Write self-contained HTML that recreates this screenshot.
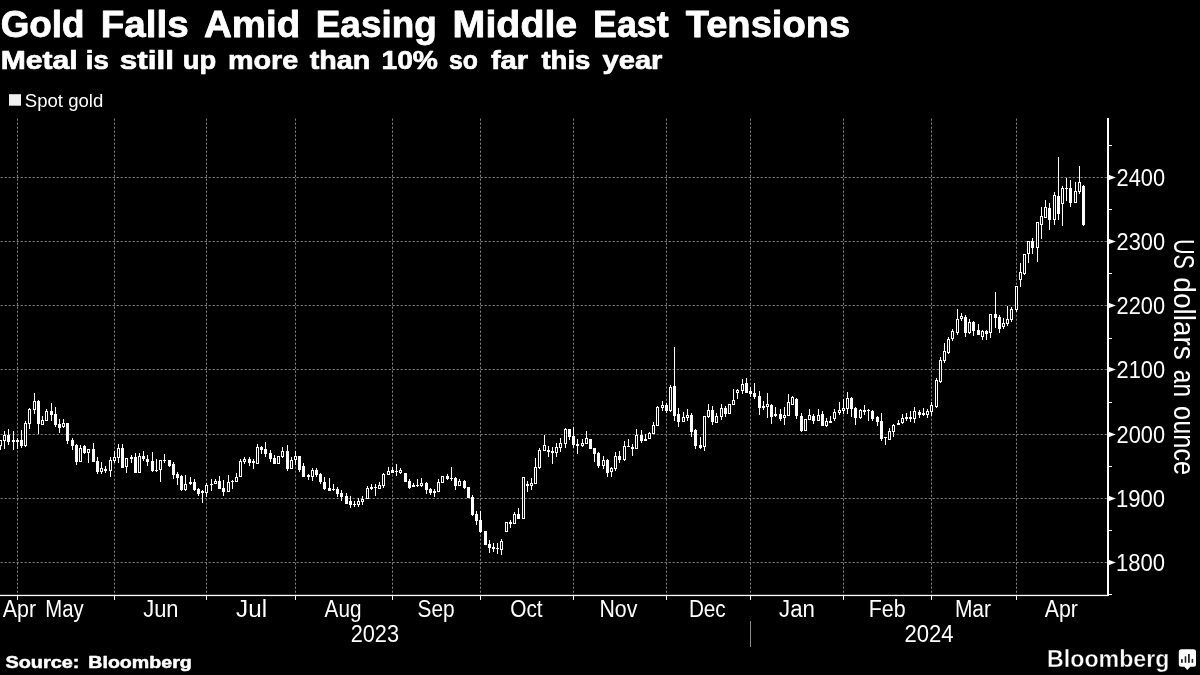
<!DOCTYPE html>
<html><head><meta charset="utf-8"><title>Gold Falls Amid Easing Middle East Tensions</title>
<style>html,body{margin:0;padding:0;background:#000;}body{width:1200px;height:675px;overflow:hidden;}svg{display:block;will-change:transform;}text{font-family:"Liberation Sans",sans-serif;fill:#fff;}</style>
</head><body>
<svg width="1200" height="675" viewBox="0 0 1200 675">
<rect width="1200" height="675" fill="#000"/>
<text x="0.70" y="37.30" font-size="37" font-weight="bold" textLength="83.86" lengthAdjust="spacingAndGlyphs" stroke="#fff" stroke-width="0.8" stroke-linejoin="round">Gold</text>
<text x="100.78" y="37.30" font-size="37" font-weight="bold" textLength="87.93" lengthAdjust="spacingAndGlyphs" stroke="#fff" stroke-width="0.8" stroke-linejoin="round">Falls</text>
<text x="203.97" y="37.30" font-size="37" font-weight="bold" textLength="96.28" lengthAdjust="spacingAndGlyphs" stroke="#fff" stroke-width="0.8" stroke-linejoin="round">Amid</text>
<text x="315.79" y="37.30" font-size="37" font-weight="bold" textLength="120.90" lengthAdjust="spacingAndGlyphs" stroke="#fff" stroke-width="0.8" stroke-linejoin="round">Easing</text>
<text x="452.63" y="37.30" font-size="37" font-weight="bold" textLength="124.63" lengthAdjust="spacingAndGlyphs" stroke="#fff" stroke-width="0.8" stroke-linejoin="round">Middle</text>
<text x="593.00" y="37.30" font-size="37" font-weight="bold" textLength="75.65" lengthAdjust="spacingAndGlyphs" stroke="#fff" stroke-width="0.8" stroke-linejoin="round">East</text>
<text x="685.71" y="37.30" font-size="37" font-weight="bold" textLength="164.53" lengthAdjust="spacingAndGlyphs" stroke="#fff" stroke-width="0.8" stroke-linejoin="round">Tensions</text>
<text x="0.65" y="68.80" font-size="26.7" font-weight="bold" textLength="76.88" lengthAdjust="spacingAndGlyphs" stroke="#fff" stroke-width="0.7" stroke-linejoin="round">Metal</text>
<text x="85.74" y="68.80" font-size="26.7" font-weight="bold" textLength="23.09" lengthAdjust="spacingAndGlyphs" stroke="#fff" stroke-width="0.7" stroke-linejoin="round">is</text>
<text x="119.79" y="68.80" font-size="26.7" font-weight="bold" textLength="54.14" lengthAdjust="spacingAndGlyphs" stroke="#fff" stroke-width="0.7" stroke-linejoin="round">still</text>
<text x="182.75" y="68.80" font-size="26.7" font-weight="bold" textLength="33.35" lengthAdjust="spacingAndGlyphs" stroke="#fff" stroke-width="0.7" stroke-linejoin="round">up</text>
<text x="227.97" y="68.80" font-size="26.7" font-weight="bold" textLength="70.32" lengthAdjust="spacingAndGlyphs" stroke="#fff" stroke-width="0.7" stroke-linejoin="round">more</text>
<text x="309.82" y="68.80" font-size="26.7" font-weight="bold" textLength="60.47" lengthAdjust="spacingAndGlyphs" stroke="#fff" stroke-width="0.7" stroke-linejoin="round">than</text>
<text x="381.46" y="68.80" font-size="26.7" font-weight="bold" textLength="56.48" lengthAdjust="spacingAndGlyphs" stroke="#fff" stroke-width="0.7" stroke-linejoin="round">10%</text>
<text x="449.10" y="68.80" font-size="26.7" font-weight="bold" textLength="28.86" lengthAdjust="spacingAndGlyphs" stroke="#fff" stroke-width="0.7" stroke-linejoin="round">so</text>
<text x="490.91" y="68.80" font-size="26.7" font-weight="bold" textLength="37.29" lengthAdjust="spacingAndGlyphs" stroke="#fff" stroke-width="0.7" stroke-linejoin="round">far</text>
<text x="541.42" y="68.80" font-size="26.7" font-weight="bold" textLength="49.00" lengthAdjust="spacingAndGlyphs" stroke="#fff" stroke-width="0.7" stroke-linejoin="round">this</text>
<text x="602.64" y="68.80" font-size="26.7" font-weight="bold" textLength="59.80" lengthAdjust="spacingAndGlyphs" stroke="#fff" stroke-width="0.7" stroke-linejoin="round">year</text>
<text x="24.80" y="106.60" font-size="18" font-weight="normal" textLength="78.43" lengthAdjust="spacingAndGlyphs">Spot gold</text>
<text x="1116.57" y="185.60" font-size="24" font-weight="normal" textLength="48.48" lengthAdjust="spacingAndGlyphs">2400</text>
<text x="1116.57" y="249.60" font-size="24" font-weight="normal" textLength="48.48" lengthAdjust="spacingAndGlyphs">2300</text>
<text x="1116.57" y="313.60" font-size="24" font-weight="normal" textLength="48.48" lengthAdjust="spacingAndGlyphs">2200</text>
<text x="1116.57" y="377.60" font-size="24" font-weight="normal" textLength="48.48" lengthAdjust="spacingAndGlyphs">2100</text>
<text x="1116.57" y="442.60" font-size="24" font-weight="normal" textLength="48.48" lengthAdjust="spacingAndGlyphs">2000</text>
<text x="1115.96" y="506.60" font-size="24" font-weight="normal" textLength="49.04" lengthAdjust="spacingAndGlyphs">1900</text>
<text x="1115.96" y="570.60" font-size="24" font-weight="normal" textLength="49.04" lengthAdjust="spacingAndGlyphs">1800</text>
<text x="2.72" y="617.00" font-size="23.5" font-weight="normal" textLength="33.36" lengthAdjust="spacingAndGlyphs">Apr</text>
<text x="45.37" y="617.00" font-size="23.5" font-weight="normal" textLength="38.32" lengthAdjust="spacingAndGlyphs">May</text>
<text x="143.22" y="617.00" font-size="23.5" font-weight="normal" textLength="35.30" lengthAdjust="spacingAndGlyphs">Jun</text>
<text x="236.11" y="617.00" font-size="23.5" font-weight="normal" textLength="30.98" lengthAdjust="spacingAndGlyphs">Jul</text>
<text x="324.62" y="617.00" font-size="23.5" font-weight="normal" textLength="36.87" lengthAdjust="spacingAndGlyphs">Aug</text>
<text x="417.54" y="617.00" font-size="23.5" font-weight="normal" textLength="37.15" lengthAdjust="spacingAndGlyphs">Sep</text>
<text x="510.23" y="617.00" font-size="23.5" font-weight="normal" textLength="32.38" lengthAdjust="spacingAndGlyphs">Oct</text>
<text x="599.51" y="617.00" font-size="23.5" font-weight="normal" textLength="37.82" lengthAdjust="spacingAndGlyphs">Nov</text>
<text x="688.90" y="617.00" font-size="23.5" font-weight="normal" textLength="36.83" lengthAdjust="spacingAndGlyphs">Dec</text>
<text x="779.06" y="617.00" font-size="23.5" font-weight="normal" textLength="35.87" lengthAdjust="spacingAndGlyphs">Jan</text>
<text x="868.80" y="617.00" font-size="23.5" font-weight="normal" textLength="36.88" lengthAdjust="spacingAndGlyphs">Feb</text>
<text x="954.88" y="617.00" font-size="23.5" font-weight="normal" textLength="36.19" lengthAdjust="spacingAndGlyphs">Mar</text>
<text x="1044.68" y="617.00" font-size="23.5" font-weight="normal" textLength="33.18" lengthAdjust="spacingAndGlyphs">Apr</text>
<text x="350.65" y="642.00" font-size="23" font-weight="normal" textLength="48.38" lengthAdjust="spacingAndGlyphs">2023</text>
<text x="904.55" y="642.00" font-size="23" font-weight="normal" textLength="49.07" lengthAdjust="spacingAndGlyphs">2024</text>
<text x="5.40" y="667.50" font-size="17" font-weight="bold" textLength="74.03" lengthAdjust="spacingAndGlyphs" stroke="#fff" stroke-width="0.5" stroke-linejoin="round">Source:</text>
<text x="88.31" y="667.50" font-size="17" font-weight="bold" textLength="103.45" lengthAdjust="spacingAndGlyphs" stroke="#fff" stroke-width="0.5" stroke-linejoin="round">Bloomberg</text>
<text x="1047.14" y="666.70" font-size="23" font-weight="bold" textLength="122.25" lengthAdjust="spacingAndGlyphs" stroke="#000" stroke-width="0.35">Bloomberg</text>
<text transform="translate(1174.30,239.08) rotate(90)" font-size="29" textLength="29.90" lengthAdjust="spacingAndGlyphs">US</text>
<text transform="translate(1174.30,277.37) rotate(90)" font-size="29" textLength="82.43" lengthAdjust="spacingAndGlyphs">dollars</text>
<text transform="translate(1174.30,369.87) rotate(90)" font-size="29" textLength="27.08" lengthAdjust="spacingAndGlyphs">an</text>
<text transform="translate(1174.30,406.12) rotate(90)" font-size="29" textLength="69.09" lengthAdjust="spacingAndGlyphs">ounce</text>
<rect x="9" y="94.2" width="12" height="11.5" fill="#f0f0f0"/>
<g stroke="#7e7e7e" stroke-width="1" stroke-dasharray="2.2 1.8" fill="none">
<line x1="17.5" y1="118.6" x2="17.5" y2="595"/>
<line x1="114.5" y1="118.6" x2="114.5" y2="595"/>
<line x1="206.5" y1="118.6" x2="206.5" y2="595"/>
<line x1="295.5" y1="118.6" x2="295.5" y2="595"/>
<line x1="392.5" y1="118.6" x2="392.5" y2="595"/>
<line x1="480.5" y1="118.6" x2="480.5" y2="595"/>
<line x1="573.5" y1="118.6" x2="573.5" y2="595"/>
<line x1="666.5" y1="118.6" x2="666.5" y2="595"/>
<line x1="750.5" y1="118.6" x2="750.5" y2="595"/>
<line x1="843.5" y1="118.6" x2="843.5" y2="595"/>
<line x1="931.5" y1="118.6" x2="931.5" y2="595"/>
<line x1="1016.5" y1="118.6" x2="1016.5" y2="595"/>
<line x1="0.6" y1="177.5" x2="1107.0" y2="177.5"/>
<line x1="0.6" y1="241.5" x2="1107.0" y2="241.5"/>
<line x1="0.6" y1="305.5" x2="1107.0" y2="305.5"/>
<line x1="0.6" y1="369.5" x2="1107.0" y2="369.5"/>
<line x1="0.6" y1="434.5" x2="1107.0" y2="434.5"/>
<line x1="0.6" y1="498.5" x2="1107.0" y2="498.5"/>
<line x1="0.6" y1="562.5" x2="1107.0" y2="562.5"/>
</g>
<g fill="#fff" shape-rendering="crispEdges">
<rect x="1107.0" y="118" width="2" height="477.5"/>
<rect x="0" y="594.8" width="1108.2" height="1.3" shape-rendering="auto"/>
<rect x="17" y="595" width="1" height="5"/>
<rect x="114" y="595" width="1" height="5"/>
<rect x="206" y="595" width="1" height="5"/>
<rect x="295" y="595" width="1" height="5"/>
<rect x="392" y="595" width="1" height="5"/>
<rect x="480" y="595" width="1" height="5"/>
<rect x="573" y="595" width="1" height="5"/>
<rect x="666" y="595" width="1" height="5"/>
<rect x="750" y="595" width="1" height="5"/>
<rect x="843" y="595" width="1" height="5"/>
<rect x="931" y="595" width="1" height="5"/>
<rect x="1016" y="595" width="1" height="5"/>
<rect x="1109.0" y="594" width="3" height="1"/>
<rect x="1109.0" y="530" width="3" height="1"/>
<rect x="1109.0" y="466" width="3" height="1"/>
<rect x="1109.0" y="402" width="3" height="1"/>
<rect x="1109.0" y="338" width="3" height="1"/>
<rect x="1109.0" y="273" width="3" height="1"/>
<rect x="1109.0" y="209" width="3" height="1"/>
<rect x="1109.0" y="145" width="3" height="1"/>
</g>
<path d="M1108.5 174.8 L1115.8 177.5 L1108.5 180.2 Z" fill="#fff"/>
<path d="M1108.5 238.8 L1115.8 241.5 L1108.5 244.2 Z" fill="#fff"/>
<path d="M1108.5 302.8 L1115.8 305.5 L1108.5 308.2 Z" fill="#fff"/>
<path d="M1108.5 366.8 L1115.8 369.5 L1108.5 372.2 Z" fill="#fff"/>
<path d="M1108.5 431.8 L1115.8 434.5 L1108.5 437.2 Z" fill="#fff"/>
<path d="M1108.5 495.8 L1115.8 498.5 L1108.5 501.2 Z" fill="#fff"/>
<path d="M1108.5 559.8 L1115.8 562.5 L1108.5 565.2 Z" fill="#fff"/>
<rect x="750" y="621" width="1" height="26" fill="#888" shape-rendering="crispEdges"/>
<path d="M1181.3 649.2 h12.2 a2.5 2.5 0 0 1 2.5 2.5 v12.5 a2.5 2.5 0 0 1 -2.5 2.5 h-3.2 l-3 3.4 l-3 -3.4 h-3 a2.5 2.5 0 0 1 -2.5 -2.5 v-12.5 a2.5 2.5 0 0 1 2.5 -2.5 z" fill="#fff"/>
<g fill="#222"><rect x="1181" y="659.2" width="1.8" height="3.6"/><rect x="1184.7" y="656.3" width="1.6" height="6.5"/><rect x="1188" y="654" width="1.8" height="8.8"/><rect x="1191.6" y="658.9" width="1.6" height="3.9"/></g>
<g shape-rendering="crispEdges">
<rect x="0" y="440" width="1" height="10" fill="#fff"/>
<rect x="-1" y="440" width="3" height="6" fill="#fff"/>
<rect x="0" y="441" width="1" height="4" fill="#000"/>
<rect x="4" y="431" width="1" height="18" fill="#fff"/>
<rect x="3" y="435" width="3" height="6" fill="#fff"/>
<rect x="4" y="436" width="1" height="4" fill="#000"/>
<rect x="8" y="429" width="1" height="16" fill="#fff"/>
<rect x="7" y="435" width="3" height="7" fill="#fff"/>
<rect x="13" y="431" width="1" height="19" fill="#fff"/>
<rect x="12" y="440" width="3" height="2" fill="#fff"/>
<rect x="17" y="438" width="1" height="11" fill="#fff"/>
<rect x="16" y="440" width="3" height="2" fill="#fff"/>
<rect x="21" y="430" width="1" height="18" fill="#fff"/>
<rect x="20" y="440" width="3" height="6" fill="#fff"/>
<rect x="25" y="421" width="1" height="26" fill="#fff"/>
<rect x="24" y="423" width="3" height="23" fill="#fff"/>
<rect x="25" y="424" width="1" height="21" fill="#000"/>
<rect x="29" y="408" width="1" height="21" fill="#fff"/>
<rect x="28" y="409" width="3" height="15" fill="#fff"/>
<rect x="29" y="410" width="1" height="13" fill="#000"/>
<rect x="34" y="393" width="1" height="21" fill="#fff"/>
<rect x="33" y="401" width="3" height="9" fill="#fff"/>
<rect x="34" y="402" width="1" height="7" fill="#000"/>
<rect x="38" y="400" width="1" height="34" fill="#fff"/>
<rect x="37" y="401" width="3" height="23" fill="#fff"/>
<rect x="42" y="416" width="1" height="9" fill="#fff"/>
<rect x="41" y="420" width="3" height="5" fill="#fff"/>
<rect x="42" y="421" width="1" height="3" fill="#000"/>
<rect x="46" y="409" width="1" height="12" fill="#fff"/>
<rect x="45" y="411" width="3" height="10" fill="#fff"/>
<rect x="46" y="412" width="1" height="8" fill="#000"/>
<rect x="51" y="403" width="1" height="18" fill="#fff"/>
<rect x="50" y="411" width="3" height="4" fill="#fff"/>
<rect x="55" y="407" width="1" height="20" fill="#fff"/>
<rect x="54" y="414" width="3" height="11" fill="#fff"/>
<rect x="59" y="419" width="1" height="14" fill="#fff"/>
<rect x="58" y="424" width="3" height="4" fill="#fff"/>
<rect x="63" y="419" width="1" height="9" fill="#fff"/>
<rect x="62" y="423" width="3" height="4" fill="#fff"/>
<rect x="63" y="424" width="1" height="2" fill="#000"/>
<rect x="67" y="423" width="1" height="21" fill="#fff"/>
<rect x="66" y="423" width="3" height="18" fill="#fff"/>
<rect x="72" y="438" width="1" height="12" fill="#fff"/>
<rect x="71" y="440" width="3" height="6" fill="#fff"/>
<rect x="76" y="444" width="1" height="21" fill="#fff"/>
<rect x="75" y="445" width="3" height="17" fill="#fff"/>
<rect x="80" y="445" width="1" height="17" fill="#fff"/>
<rect x="79" y="448" width="3" height="14" fill="#fff"/>
<rect x="80" y="449" width="1" height="12" fill="#000"/>
<rect x="84" y="445" width="1" height="9" fill="#fff"/>
<rect x="83" y="446" width="3" height="7" fill="#fff"/>
<rect x="88" y="449" width="1" height="14" fill="#fff"/>
<rect x="87" y="449" width="3" height="4" fill="#fff"/>
<rect x="88" y="450" width="1" height="2" fill="#000"/>
<rect x="93" y="443" width="1" height="19" fill="#fff"/>
<rect x="92" y="449" width="3" height="13" fill="#fff"/>
<rect x="97" y="457" width="1" height="17" fill="#fff"/>
<rect x="96" y="461" width="3" height="11" fill="#fff"/>
<rect x="101" y="462" width="1" height="12" fill="#fff"/>
<rect x="100" y="468" width="3" height="4" fill="#fff"/>
<rect x="101" y="469" width="1" height="2" fill="#000"/>
<rect x="105" y="466" width="1" height="7" fill="#fff"/>
<rect x="104" y="469" width="3" height="2" fill="#fff"/>
<rect x="110" y="457" width="1" height="20" fill="#fff"/>
<rect x="109" y="460" width="3" height="11" fill="#fff"/>
<rect x="110" y="461" width="1" height="9" fill="#000"/>
<rect x="114" y="451" width="1" height="12" fill="#fff"/>
<rect x="113" y="457" width="3" height="4" fill="#fff"/>
<rect x="114" y="458" width="1" height="2" fill="#000"/>
<rect x="118" y="444" width="1" height="19" fill="#fff"/>
<rect x="117" y="448" width="3" height="10" fill="#fff"/>
<rect x="118" y="449" width="1" height="8" fill="#000"/>
<rect x="122" y="444" width="1" height="24" fill="#fff"/>
<rect x="121" y="448" width="3" height="20" fill="#fff"/>
<rect x="126" y="458" width="1" height="15" fill="#fff"/>
<rect x="125" y="458" width="3" height="9" fill="#fff"/>
<rect x="126" y="459" width="1" height="7" fill="#000"/>
<rect x="131" y="455" width="1" height="8" fill="#fff"/>
<rect x="130" y="457" width="3" height="2" fill="#fff"/>
<rect x="135" y="453" width="1" height="20" fill="#fff"/>
<rect x="134" y="457" width="3" height="16" fill="#fff"/>
<rect x="139" y="453" width="1" height="20" fill="#fff"/>
<rect x="138" y="456" width="3" height="17" fill="#fff"/>
<rect x="139" y="457" width="1" height="15" fill="#000"/>
<rect x="143" y="451" width="1" height="10" fill="#fff"/>
<rect x="142" y="456" width="3" height="3" fill="#fff"/>
<rect x="147" y="455" width="1" height="11" fill="#fff"/>
<rect x="146" y="459" width="3" height="3" fill="#fff"/>
<rect x="152" y="452" width="1" height="20" fill="#fff"/>
<rect x="151" y="461" width="3" height="10" fill="#fff"/>
<rect x="156" y="459" width="1" height="13" fill="#fff"/>
<rect x="155" y="470" width="3" height="1" fill="#fff"/>
<rect x="160" y="460" width="1" height="22" fill="#fff"/>
<rect x="159" y="460" width="3" height="10" fill="#fff"/>
<rect x="160" y="461" width="1" height="8" fill="#000"/>
<rect x="164" y="454" width="1" height="9" fill="#fff"/>
<rect x="163" y="460" width="3" height="1" fill="#fff"/>
<rect x="169" y="460" width="1" height="7" fill="#fff"/>
<rect x="168" y="460" width="3" height="6" fill="#fff"/>
<rect x="173" y="462" width="1" height="17" fill="#fff"/>
<rect x="172" y="464" width="3" height="11" fill="#fff"/>
<rect x="177" y="472" width="1" height="13" fill="#fff"/>
<rect x="176" y="474" width="3" height="4" fill="#fff"/>
<rect x="181" y="475" width="1" height="16" fill="#fff"/>
<rect x="180" y="476" width="3" height="14" fill="#fff"/>
<rect x="185" y="475" width="1" height="16" fill="#fff"/>
<rect x="184" y="484" width="3" height="6" fill="#fff"/>
<rect x="185" y="485" width="1" height="4" fill="#000"/>
<rect x="190" y="477" width="1" height="8" fill="#fff"/>
<rect x="189" y="482" width="3" height="2" fill="#fff"/>
<rect x="194" y="479" width="1" height="12" fill="#fff"/>
<rect x="193" y="482" width="3" height="8" fill="#fff"/>
<rect x="198" y="488" width="1" height="8" fill="#fff"/>
<rect x="197" y="489" width="3" height="5" fill="#fff"/>
<rect x="202" y="490" width="1" height="13" fill="#fff"/>
<rect x="201" y="491" width="3" height="2" fill="#fff"/>
<rect x="206" y="483" width="1" height="14" fill="#fff"/>
<rect x="205" y="485" width="3" height="8" fill="#fff"/>
<rect x="206" y="486" width="1" height="6" fill="#000"/>
<rect x="211" y="479" width="1" height="12" fill="#fff"/>
<rect x="210" y="484" width="3" height="1" fill="#fff"/>
<rect x="215" y="479" width="1" height="5" fill="#fff"/>
<rect x="214" y="481" width="3" height="3" fill="#fff"/>
<rect x="215" y="482" width="1" height="1" fill="#000"/>
<rect x="219" y="476" width="1" height="13" fill="#fff"/>
<rect x="218" y="481" width="3" height="8" fill="#fff"/>
<rect x="223" y="480" width="1" height="16" fill="#fff"/>
<rect x="222" y="488" width="3" height="4" fill="#fff"/>
<rect x="228" y="475" width="1" height="17" fill="#fff"/>
<rect x="227" y="482" width="3" height="10" fill="#fff"/>
<rect x="228" y="483" width="1" height="8" fill="#000"/>
<rect x="232" y="480" width="1" height="9" fill="#fff"/>
<rect x="231" y="481" width="3" height="1" fill="#fff"/>
<rect x="236" y="473" width="1" height="9" fill="#fff"/>
<rect x="235" y="477" width="3" height="5" fill="#fff"/>
<rect x="236" y="478" width="1" height="3" fill="#000"/>
<rect x="240" y="459" width="1" height="18" fill="#fff"/>
<rect x="239" y="461" width="3" height="16" fill="#fff"/>
<rect x="240" y="462" width="1" height="14" fill="#000"/>
<rect x="244" y="457" width="1" height="7" fill="#fff"/>
<rect x="243" y="459" width="3" height="3" fill="#fff"/>
<rect x="244" y="460" width="1" height="1" fill="#000"/>
<rect x="249" y="457" width="1" height="9" fill="#fff"/>
<rect x="248" y="459" width="3" height="4" fill="#fff"/>
<rect x="253" y="459" width="1" height="10" fill="#fff"/>
<rect x="252" y="461" width="3" height="2" fill="#fff"/>
<rect x="257" y="444" width="1" height="20" fill="#fff"/>
<rect x="256" y="447" width="3" height="17" fill="#fff"/>
<rect x="257" y="448" width="1" height="15" fill="#000"/>
<rect x="261" y="446" width="1" height="8" fill="#fff"/>
<rect x="260" y="447" width="3" height="3" fill="#fff"/>
<rect x="265" y="442" width="1" height="15" fill="#fff"/>
<rect x="264" y="449" width="3" height="5" fill="#fff"/>
<rect x="270" y="450" width="1" height="12" fill="#fff"/>
<rect x="269" y="453" width="3" height="6" fill="#fff"/>
<rect x="274" y="455" width="1" height="9" fill="#fff"/>
<rect x="273" y="458" width="3" height="6" fill="#fff"/>
<rect x="278" y="456" width="1" height="8" fill="#fff"/>
<rect x="277" y="456" width="3" height="8" fill="#fff"/>
<rect x="278" y="457" width="1" height="6" fill="#000"/>
<rect x="282" y="447" width="1" height="11" fill="#fff"/>
<rect x="281" y="451" width="3" height="6" fill="#fff"/>
<rect x="282" y="452" width="1" height="4" fill="#000"/>
<rect x="287" y="445" width="1" height="26" fill="#fff"/>
<rect x="286" y="451" width="3" height="18" fill="#fff"/>
<rect x="291" y="457" width="1" height="12" fill="#fff"/>
<rect x="290" y="460" width="3" height="9" fill="#fff"/>
<rect x="291" y="461" width="1" height="7" fill="#000"/>
<rect x="295" y="451" width="1" height="14" fill="#fff"/>
<rect x="294" y="456" width="3" height="4" fill="#fff"/>
<rect x="295" y="457" width="1" height="2" fill="#000"/>
<rect x="299" y="456" width="1" height="16" fill="#fff"/>
<rect x="298" y="456" width="3" height="14" fill="#fff"/>
<rect x="303" y="463" width="1" height="14" fill="#fff"/>
<rect x="302" y="466" width="3" height="11" fill="#fff"/>
<rect x="308" y="474" width="1" height="6" fill="#fff"/>
<rect x="307" y="475" width="3" height="2" fill="#fff"/>
<rect x="312" y="468" width="1" height="13" fill="#fff"/>
<rect x="311" y="470" width="3" height="7" fill="#fff"/>
<rect x="312" y="471" width="1" height="5" fill="#000"/>
<rect x="316" y="468" width="1" height="9" fill="#fff"/>
<rect x="315" y="470" width="3" height="5" fill="#fff"/>
<rect x="320" y="473" width="1" height="11" fill="#fff"/>
<rect x="319" y="474" width="3" height="8" fill="#fff"/>
<rect x="324" y="477" width="1" height="13" fill="#fff"/>
<rect x="323" y="482" width="3" height="7" fill="#fff"/>
<rect x="329" y="478" width="1" height="13" fill="#fff"/>
<rect x="328" y="488" width="3" height="3" fill="#fff"/>
<rect x="333" y="484" width="1" height="7" fill="#fff"/>
<rect x="332" y="489" width="3" height="1" fill="#fff"/>
<rect x="337" y="487" width="1" height="10" fill="#fff"/>
<rect x="336" y="489" width="3" height="5" fill="#fff"/>
<rect x="341" y="490" width="1" height="11" fill="#fff"/>
<rect x="340" y="493" width="3" height="4" fill="#fff"/>
<rect x="346" y="493" width="1" height="11" fill="#fff"/>
<rect x="345" y="496" width="3" height="8" fill="#fff"/>
<rect x="350" y="496" width="1" height="12" fill="#fff"/>
<rect x="349" y="501" width="3" height="4" fill="#fff"/>
<rect x="354" y="501" width="1" height="6" fill="#fff"/>
<rect x="353" y="504" width="3" height="1" fill="#fff"/>
<rect x="358" y="498" width="1" height="9" fill="#fff"/>
<rect x="357" y="501" width="3" height="4" fill="#fff"/>
<rect x="358" y="502" width="1" height="2" fill="#000"/>
<rect x="362" y="496" width="1" height="9" fill="#fff"/>
<rect x="361" y="499" width="3" height="3" fill="#fff"/>
<rect x="362" y="500" width="1" height="1" fill="#000"/>
<rect x="367" y="486" width="1" height="13" fill="#fff"/>
<rect x="366" y="488" width="3" height="11" fill="#fff"/>
<rect x="367" y="489" width="1" height="9" fill="#000"/>
<rect x="371" y="484" width="1" height="6" fill="#fff"/>
<rect x="370" y="487" width="3" height="2" fill="#fff"/>
<rect x="375" y="484" width="1" height="12" fill="#fff"/>
<rect x="374" y="487" width="3" height="1" fill="#fff"/>
<rect x="379" y="482" width="1" height="7" fill="#fff"/>
<rect x="378" y="485" width="3" height="4" fill="#fff"/>
<rect x="379" y="486" width="1" height="2" fill="#000"/>
<rect x="383" y="473" width="1" height="15" fill="#fff"/>
<rect x="382" y="474" width="3" height="12" fill="#fff"/>
<rect x="383" y="475" width="1" height="10" fill="#000"/>
<rect x="388" y="467" width="1" height="8" fill="#fff"/>
<rect x="387" y="471" width="3" height="4" fill="#fff"/>
<rect x="388" y="472" width="1" height="2" fill="#000"/>
<rect x="392" y="467" width="1" height="6" fill="#fff"/>
<rect x="391" y="470" width="3" height="3" fill="#fff"/>
<rect x="396" y="464" width="1" height="12" fill="#fff"/>
<rect x="395" y="471" width="3" height="1" fill="#fff"/>
<rect x="400" y="468" width="1" height="6" fill="#fff"/>
<rect x="399" y="470" width="3" height="3" fill="#fff"/>
<rect x="400" y="471" width="1" height="1" fill="#000"/>
<rect x="405" y="473" width="1" height="9" fill="#fff"/>
<rect x="404" y="473" width="3" height="9" fill="#fff"/>
<rect x="409" y="479" width="1" height="10" fill="#fff"/>
<rect x="408" y="481" width="3" height="7" fill="#fff"/>
<rect x="413" y="483" width="1" height="4" fill="#fff"/>
<rect x="412" y="485" width="3" height="2" fill="#fff"/>
<rect x="417" y="479" width="1" height="8" fill="#fff"/>
<rect x="416" y="485" width="3" height="1" fill="#fff"/>
<rect x="421" y="478" width="1" height="9" fill="#fff"/>
<rect x="420" y="483" width="3" height="3" fill="#fff"/>
<rect x="421" y="484" width="1" height="1" fill="#000"/>
<rect x="426" y="482" width="1" height="12" fill="#fff"/>
<rect x="425" y="483" width="3" height="7" fill="#fff"/>
<rect x="430" y="488" width="1" height="7" fill="#fff"/>
<rect x="429" y="489" width="3" height="4" fill="#fff"/>
<rect x="434" y="489" width="1" height="8" fill="#fff"/>
<rect x="433" y="491" width="3" height="2" fill="#fff"/>
<rect x="438" y="479" width="1" height="13" fill="#fff"/>
<rect x="437" y="482" width="3" height="10" fill="#fff"/>
<rect x="438" y="483" width="1" height="8" fill="#000"/>
<rect x="442" y="476" width="1" height="7" fill="#fff"/>
<rect x="441" y="476" width="3" height="7" fill="#fff"/>
<rect x="442" y="477" width="1" height="5" fill="#000"/>
<rect x="447" y="474" width="1" height="6" fill="#fff"/>
<rect x="446" y="476" width="3" height="3" fill="#fff"/>
<rect x="451" y="467" width="1" height="14" fill="#fff"/>
<rect x="450" y="478" width="3" height="1" fill="#fff"/>
<rect x="455" y="477" width="1" height="13" fill="#fff"/>
<rect x="454" y="478" width="3" height="8" fill="#fff"/>
<rect x="459" y="479" width="1" height="7" fill="#fff"/>
<rect x="458" y="481" width="3" height="5" fill="#fff"/>
<rect x="459" y="482" width="1" height="3" fill="#000"/>
<rect x="464" y="480" width="1" height="9" fill="#fff"/>
<rect x="463" y="481" width="3" height="7" fill="#fff"/>
<rect x="468" y="487" width="1" height="11" fill="#fff"/>
<rect x="467" y="487" width="3" height="11" fill="#fff"/>
<rect x="472" y="495" width="1" height="21" fill="#fff"/>
<rect x="471" y="497" width="3" height="18" fill="#fff"/>
<rect x="476" y="511" width="1" height="14" fill="#fff"/>
<rect x="475" y="514" width="3" height="7" fill="#fff"/>
<rect x="480" y="511" width="1" height="22" fill="#fff"/>
<rect x="479" y="520" width="3" height="12" fill="#fff"/>
<rect x="485" y="531" width="1" height="14" fill="#fff"/>
<rect x="484" y="531" width="3" height="14" fill="#fff"/>
<rect x="489" y="540" width="1" height="13" fill="#fff"/>
<rect x="488" y="544" width="3" height="4" fill="#fff"/>
<rect x="493" y="543" width="1" height="9" fill="#fff"/>
<rect x="492" y="547" width="3" height="2" fill="#fff"/>
<rect x="497" y="543" width="1" height="11" fill="#fff"/>
<rect x="496" y="548" width="3" height="1" fill="#fff"/>
<rect x="501" y="539" width="1" height="16" fill="#fff"/>
<rect x="500" y="541" width="3" height="9" fill="#fff"/>
<rect x="501" y="542" width="1" height="7" fill="#000"/>
<rect x="506" y="522" width="1" height="10" fill="#fff"/>
<rect x="505" y="522" width="3" height="10" fill="#fff"/>
<rect x="506" y="523" width="1" height="8" fill="#000"/>
<rect x="510" y="520" width="1" height="8" fill="#fff"/>
<rect x="509" y="522" width="3" height="2" fill="#fff"/>
<rect x="514" y="512" width="1" height="12" fill="#fff"/>
<rect x="513" y="514" width="3" height="10" fill="#fff"/>
<rect x="514" y="515" width="1" height="8" fill="#000"/>
<rect x="518" y="508" width="1" height="11" fill="#fff"/>
<rect x="517" y="514" width="3" height="5" fill="#fff"/>
<rect x="523" y="477" width="1" height="42" fill="#fff"/>
<rect x="522" y="477" width="3" height="42" fill="#fff"/>
<rect x="523" y="478" width="1" height="40" fill="#000"/>
<rect x="527" y="481" width="1" height="11" fill="#fff"/>
<rect x="526" y="484" width="3" height="2" fill="#fff"/>
<rect x="531" y="478" width="1" height="12" fill="#fff"/>
<rect x="530" y="483" width="3" height="3" fill="#fff"/>
<rect x="531" y="484" width="1" height="1" fill="#000"/>
<rect x="535" y="458" width="1" height="26" fill="#fff"/>
<rect x="534" y="467" width="3" height="17" fill="#fff"/>
<rect x="535" y="468" width="1" height="15" fill="#000"/>
<rect x="539" y="448" width="1" height="21" fill="#fff"/>
<rect x="538" y="450" width="3" height="18" fill="#fff"/>
<rect x="539" y="451" width="1" height="16" fill="#000"/>
<rect x="544" y="435" width="1" height="16" fill="#fff"/>
<rect x="543" y="445" width="3" height="6" fill="#fff"/>
<rect x="544" y="446" width="1" height="4" fill="#000"/>
<rect x="548" y="446" width="1" height="11" fill="#fff"/>
<rect x="547" y="450" width="3" height="2" fill="#fff"/>
<rect x="552" y="447" width="1" height="17" fill="#fff"/>
<rect x="551" y="451" width="3" height="2" fill="#fff"/>
<rect x="556" y="443" width="1" height="14" fill="#fff"/>
<rect x="555" y="447" width="3" height="6" fill="#fff"/>
<rect x="556" y="448" width="1" height="4" fill="#000"/>
<rect x="560" y="438" width="1" height="14" fill="#fff"/>
<rect x="559" y="443" width="3" height="5" fill="#fff"/>
<rect x="560" y="444" width="1" height="3" fill="#000"/>
<rect x="565" y="428" width="1" height="20" fill="#fff"/>
<rect x="564" y="429" width="3" height="15" fill="#fff"/>
<rect x="565" y="430" width="1" height="13" fill="#000"/>
<rect x="569" y="429" width="1" height="11" fill="#fff"/>
<rect x="568" y="429" width="3" height="8" fill="#fff"/>
<rect x="573" y="427" width="1" height="21" fill="#fff"/>
<rect x="572" y="436" width="3" height="9" fill="#fff"/>
<rect x="577" y="439" width="1" height="15" fill="#fff"/>
<rect x="576" y="444" width="3" height="2" fill="#fff"/>
<rect x="582" y="439" width="1" height="8" fill="#fff"/>
<rect x="581" y="443" width="3" height="3" fill="#fff"/>
<rect x="582" y="444" width="1" height="1" fill="#000"/>
<rect x="586" y="431" width="1" height="13" fill="#fff"/>
<rect x="585" y="438" width="3" height="6" fill="#fff"/>
<rect x="586" y="439" width="1" height="4" fill="#000"/>
<rect x="590" y="439" width="1" height="10" fill="#fff"/>
<rect x="589" y="439" width="3" height="10" fill="#fff"/>
<rect x="594" y="448" width="1" height="14" fill="#fff"/>
<rect x="593" y="448" width="3" height="6" fill="#fff"/>
<rect x="598" y="452" width="1" height="16" fill="#fff"/>
<rect x="597" y="453" width="3" height="13" fill="#fff"/>
<rect x="603" y="456" width="1" height="13" fill="#fff"/>
<rect x="602" y="460" width="3" height="6" fill="#fff"/>
<rect x="603" y="461" width="1" height="4" fill="#000"/>
<rect x="607" y="459" width="1" height="18" fill="#fff"/>
<rect x="606" y="460" width="3" height="13" fill="#fff"/>
<rect x="611" y="467" width="1" height="10" fill="#fff"/>
<rect x="610" y="468" width="3" height="4" fill="#fff"/>
<rect x="611" y="469" width="1" height="2" fill="#000"/>
<rect x="615" y="452" width="1" height="19" fill="#fff"/>
<rect x="614" y="456" width="3" height="13" fill="#fff"/>
<rect x="615" y="457" width="1" height="11" fill="#000"/>
<rect x="619" y="451" width="1" height="12" fill="#fff"/>
<rect x="618" y="456" width="3" height="4" fill="#fff"/>
<rect x="624" y="441" width="1" height="20" fill="#fff"/>
<rect x="623" y="446" width="3" height="14" fill="#fff"/>
<rect x="624" y="447" width="1" height="12" fill="#000"/>
<rect x="628" y="439" width="1" height="8" fill="#fff"/>
<rect x="627" y="446" width="3" height="1" fill="#fff"/>
<rect x="632" y="444" width="1" height="12" fill="#fff"/>
<rect x="631" y="447" width="3" height="2" fill="#fff"/>
<rect x="636" y="429" width="1" height="20" fill="#fff"/>
<rect x="635" y="435" width="3" height="14" fill="#fff"/>
<rect x="636" y="436" width="1" height="12" fill="#000"/>
<rect x="641" y="430" width="1" height="13" fill="#fff"/>
<rect x="640" y="435" width="3" height="6" fill="#fff"/>
<rect x="645" y="434" width="1" height="7" fill="#fff"/>
<rect x="644" y="439" width="3" height="2" fill="#fff"/>
<rect x="649" y="432" width="1" height="7" fill="#fff"/>
<rect x="648" y="433" width="3" height="6" fill="#fff"/>
<rect x="649" y="434" width="1" height="4" fill="#000"/>
<rect x="653" y="422" width="1" height="12" fill="#fff"/>
<rect x="652" y="425" width="3" height="9" fill="#fff"/>
<rect x="653" y="426" width="1" height="7" fill="#000"/>
<rect x="657" y="406" width="1" height="20" fill="#fff"/>
<rect x="656" y="407" width="3" height="19" fill="#fff"/>
<rect x="657" y="408" width="1" height="17" fill="#000"/>
<rect x="662" y="401" width="1" height="10" fill="#fff"/>
<rect x="661" y="405" width="3" height="3" fill="#fff"/>
<rect x="662" y="406" width="1" height="1" fill="#000"/>
<rect x="666" y="403" width="1" height="10" fill="#fff"/>
<rect x="665" y="405" width="3" height="6" fill="#fff"/>
<rect x="670" y="385" width="1" height="27" fill="#fff"/>
<rect x="669" y="387" width="3" height="24" fill="#fff"/>
<rect x="670" y="388" width="1" height="22" fill="#000"/>
<rect x="674" y="347" width="1" height="74" fill="#fff"/>
<rect x="673" y="386" width="3" height="30" fill="#fff"/>
<rect x="678" y="408" width="1" height="19" fill="#fff"/>
<rect x="677" y="414" width="3" height="8" fill="#fff"/>
<rect x="683" y="412" width="1" height="10" fill="#fff"/>
<rect x="682" y="417" width="3" height="5" fill="#fff"/>
<rect x="683" y="418" width="1" height="3" fill="#000"/>
<rect x="687" y="409" width="1" height="12" fill="#fff"/>
<rect x="686" y="415" width="3" height="3" fill="#fff"/>
<rect x="687" y="416" width="1" height="1" fill="#000"/>
<rect x="691" y="413" width="1" height="24" fill="#fff"/>
<rect x="690" y="415" width="3" height="17" fill="#fff"/>
<rect x="695" y="429" width="1" height="20" fill="#fff"/>
<rect x="694" y="430" width="3" height="16" fill="#fff"/>
<rect x="700" y="437" width="1" height="12" fill="#fff"/>
<rect x="699" y="445" width="3" height="3" fill="#fff"/>
<rect x="704" y="416" width="1" height="35" fill="#fff"/>
<rect x="703" y="416" width="3" height="31" fill="#fff"/>
<rect x="704" y="417" width="1" height="29" fill="#000"/>
<rect x="708" y="404" width="1" height="14" fill="#fff"/>
<rect x="707" y="410" width="3" height="7" fill="#fff"/>
<rect x="708" y="411" width="1" height="5" fill="#000"/>
<rect x="712" y="406" width="1" height="19" fill="#fff"/>
<rect x="711" y="410" width="3" height="12" fill="#fff"/>
<rect x="716" y="413" width="1" height="10" fill="#fff"/>
<rect x="715" y="416" width="3" height="7" fill="#fff"/>
<rect x="716" y="417" width="1" height="5" fill="#000"/>
<rect x="721" y="404" width="1" height="16" fill="#fff"/>
<rect x="720" y="408" width="3" height="9" fill="#fff"/>
<rect x="721" y="409" width="1" height="7" fill="#000"/>
<rect x="725" y="406" width="1" height="11" fill="#fff"/>
<rect x="724" y="408" width="3" height="6" fill="#fff"/>
<rect x="729" y="404" width="1" height="10" fill="#fff"/>
<rect x="728" y="404" width="3" height="10" fill="#fff"/>
<rect x="729" y="405" width="1" height="8" fill="#000"/>
<rect x="733" y="389" width="1" height="16" fill="#fff"/>
<rect x="732" y="400" width="3" height="5" fill="#fff"/>
<rect x="733" y="401" width="1" height="3" fill="#000"/>
<rect x="737" y="389" width="1" height="10" fill="#fff"/>
<rect x="736" y="390" width="3" height="3" fill="#fff"/>
<rect x="737" y="391" width="1" height="1" fill="#000"/>
<rect x="742" y="379" width="1" height="15" fill="#fff"/>
<rect x="741" y="384" width="3" height="7" fill="#fff"/>
<rect x="742" y="385" width="1" height="5" fill="#000"/>
<rect x="746" y="378" width="1" height="15" fill="#fff"/>
<rect x="745" y="383" width="3" height="10" fill="#fff"/>
<rect x="750" y="387" width="1" height="10" fill="#fff"/>
<rect x="749" y="391" width="3" height="3" fill="#fff"/>
<rect x="754" y="383" width="1" height="16" fill="#fff"/>
<rect x="753" y="393" width="3" height="4" fill="#fff"/>
<rect x="759" y="391" width="1" height="24" fill="#fff"/>
<rect x="758" y="396" width="3" height="12" fill="#fff"/>
<rect x="763" y="401" width="1" height="9" fill="#fff"/>
<rect x="762" y="406" width="3" height="2" fill="#fff"/>
<rect x="767" y="393" width="1" height="25" fill="#fff"/>
<rect x="766" y="404" width="3" height="3" fill="#fff"/>
<rect x="767" y="405" width="1" height="1" fill="#000"/>
<rect x="771" y="404" width="1" height="20" fill="#fff"/>
<rect x="770" y="405" width="3" height="12" fill="#fff"/>
<rect x="775" y="407" width="1" height="10" fill="#fff"/>
<rect x="774" y="414" width="3" height="2" fill="#fff"/>
<rect x="780" y="409" width="1" height="12" fill="#fff"/>
<rect x="779" y="414" width="3" height="5" fill="#fff"/>
<rect x="784" y="407" width="1" height="18" fill="#fff"/>
<rect x="783" y="415" width="3" height="3" fill="#fff"/>
<rect x="784" y="416" width="1" height="1" fill="#000"/>
<rect x="788" y="394" width="1" height="22" fill="#fff"/>
<rect x="787" y="402" width="3" height="14" fill="#fff"/>
<rect x="788" y="403" width="1" height="12" fill="#000"/>
<rect x="792" y="396" width="1" height="9" fill="#fff"/>
<rect x="791" y="397" width="3" height="8" fill="#fff"/>
<rect x="792" y="398" width="1" height="6" fill="#000"/>
<rect x="796" y="398" width="1" height="21" fill="#fff"/>
<rect x="795" y="399" width="3" height="17" fill="#fff"/>
<rect x="801" y="413" width="1" height="19" fill="#fff"/>
<rect x="800" y="416" width="3" height="15" fill="#fff"/>
<rect x="805" y="419" width="1" height="12" fill="#fff"/>
<rect x="804" y="419" width="3" height="12" fill="#fff"/>
<rect x="805" y="420" width="1" height="10" fill="#000"/>
<rect x="809" y="409" width="1" height="11" fill="#fff"/>
<rect x="808" y="415" width="3" height="5" fill="#fff"/>
<rect x="809" y="416" width="1" height="3" fill="#000"/>
<rect x="813" y="414" width="1" height="10" fill="#fff"/>
<rect x="812" y="416" width="3" height="5" fill="#fff"/>
<rect x="818" y="409" width="1" height="12" fill="#fff"/>
<rect x="817" y="415" width="3" height="6" fill="#fff"/>
<rect x="818" y="416" width="1" height="4" fill="#000"/>
<rect x="822" y="411" width="1" height="15" fill="#fff"/>
<rect x="821" y="414" width="3" height="12" fill="#fff"/>
<rect x="826" y="418" width="1" height="9" fill="#fff"/>
<rect x="825" y="421" width="3" height="5" fill="#fff"/>
<rect x="826" y="422" width="1" height="3" fill="#000"/>
<rect x="830" y="416" width="1" height="7" fill="#fff"/>
<rect x="829" y="421" width="3" height="2" fill="#fff"/>
<rect x="834" y="409" width="1" height="12" fill="#fff"/>
<rect x="833" y="412" width="3" height="7" fill="#fff"/>
<rect x="834" y="413" width="1" height="5" fill="#000"/>
<rect x="839" y="402" width="1" height="13" fill="#fff"/>
<rect x="838" y="410" width="3" height="3" fill="#fff"/>
<rect x="839" y="411" width="1" height="1" fill="#000"/>
<rect x="843" y="399" width="1" height="15" fill="#fff"/>
<rect x="842" y="408" width="3" height="3" fill="#fff"/>
<rect x="843" y="409" width="1" height="1" fill="#000"/>
<rect x="847" y="392" width="1" height="22" fill="#fff"/>
<rect x="846" y="398" width="3" height="11" fill="#fff"/>
<rect x="847" y="399" width="1" height="9" fill="#000"/>
<rect x="851" y="397" width="1" height="20" fill="#fff"/>
<rect x="850" y="398" width="3" height="11" fill="#fff"/>
<rect x="855" y="407" width="1" height="18" fill="#fff"/>
<rect x="854" y="408" width="3" height="10" fill="#fff"/>
<rect x="860" y="409" width="1" height="10" fill="#fff"/>
<rect x="859" y="410" width="3" height="8" fill="#fff"/>
<rect x="860" y="411" width="1" height="6" fill="#000"/>
<rect x="864" y="405" width="1" height="10" fill="#fff"/>
<rect x="863" y="410" width="3" height="2" fill="#fff"/>
<rect x="868" y="409" width="1" height="12" fill="#fff"/>
<rect x="867" y="410" width="3" height="1" fill="#fff"/>
<rect x="872" y="410" width="1" height="11" fill="#fff"/>
<rect x="871" y="411" width="3" height="8" fill="#fff"/>
<rect x="877" y="416" width="1" height="10" fill="#fff"/>
<rect x="876" y="417" width="3" height="5" fill="#fff"/>
<rect x="881" y="413" width="1" height="28" fill="#fff"/>
<rect x="880" y="421" width="3" height="18" fill="#fff"/>
<rect x="885" y="437" width="1" height="8" fill="#fff"/>
<rect x="884" y="437" width="3" height="1" fill="#fff"/>
<rect x="889" y="428" width="1" height="12" fill="#fff"/>
<rect x="888" y="431" width="3" height="9" fill="#fff"/>
<rect x="889" y="432" width="1" height="7" fill="#000"/>
<rect x="893" y="424" width="1" height="13" fill="#fff"/>
<rect x="892" y="425" width="3" height="7" fill="#fff"/>
<rect x="893" y="426" width="1" height="5" fill="#000"/>
<rect x="898" y="420" width="1" height="5" fill="#fff"/>
<rect x="897" y="423" width="3" height="2" fill="#fff"/>
<rect x="902" y="414" width="1" height="10" fill="#fff"/>
<rect x="901" y="418" width="3" height="5" fill="#fff"/>
<rect x="902" y="419" width="1" height="3" fill="#000"/>
<rect x="906" y="413" width="1" height="8" fill="#fff"/>
<rect x="905" y="417" width="3" height="2" fill="#fff"/>
<rect x="910" y="411" width="1" height="11" fill="#fff"/>
<rect x="909" y="417" width="3" height="2" fill="#fff"/>
<rect x="914" y="407" width="1" height="16" fill="#fff"/>
<rect x="913" y="411" width="3" height="8" fill="#fff"/>
<rect x="914" y="412" width="1" height="6" fill="#000"/>
<rect x="919" y="410" width="1" height="8" fill="#fff"/>
<rect x="918" y="412" width="3" height="3" fill="#fff"/>
<rect x="923" y="408" width="1" height="8" fill="#fff"/>
<rect x="922" y="413" width="3" height="2" fill="#fff"/>
<rect x="927" y="409" width="1" height="9" fill="#fff"/>
<rect x="926" y="411" width="3" height="4" fill="#fff"/>
<rect x="927" y="412" width="1" height="2" fill="#000"/>
<rect x="931" y="402" width="1" height="14" fill="#fff"/>
<rect x="930" y="405" width="3" height="7" fill="#fff"/>
<rect x="931" y="406" width="1" height="5" fill="#000"/>
<rect x="936" y="378" width="1" height="30" fill="#fff"/>
<rect x="935" y="380" width="3" height="27" fill="#fff"/>
<rect x="936" y="381" width="1" height="25" fill="#000"/>
<rect x="940" y="357" width="1" height="26" fill="#fff"/>
<rect x="939" y="360" width="3" height="22" fill="#fff"/>
<rect x="940" y="361" width="1" height="20" fill="#000"/>
<rect x="944" y="343" width="1" height="20" fill="#fff"/>
<rect x="943" y="351" width="3" height="10" fill="#fff"/>
<rect x="944" y="352" width="1" height="8" fill="#000"/>
<rect x="948" y="337" width="1" height="17" fill="#fff"/>
<rect x="947" y="339" width="3" height="14" fill="#fff"/>
<rect x="948" y="340" width="1" height="12" fill="#000"/>
<rect x="952" y="329" width="1" height="12" fill="#fff"/>
<rect x="951" y="331" width="3" height="8" fill="#fff"/>
<rect x="952" y="332" width="1" height="6" fill="#000"/>
<rect x="957" y="309" width="1" height="26" fill="#fff"/>
<rect x="956" y="319" width="3" height="14" fill="#fff"/>
<rect x="957" y="320" width="1" height="12" fill="#000"/>
<rect x="961" y="313" width="1" height="8" fill="#fff"/>
<rect x="960" y="316" width="3" height="3" fill="#fff"/>
<rect x="961" y="317" width="1" height="1" fill="#000"/>
<rect x="965" y="315" width="1" height="22" fill="#fff"/>
<rect x="964" y="317" width="3" height="16" fill="#fff"/>
<rect x="969" y="319" width="1" height="15" fill="#fff"/>
<rect x="968" y="322" width="3" height="11" fill="#fff"/>
<rect x="969" y="323" width="1" height="9" fill="#000"/>
<rect x="973" y="321" width="1" height="15" fill="#fff"/>
<rect x="972" y="322" width="3" height="9" fill="#fff"/>
<rect x="978" y="324" width="1" height="11" fill="#fff"/>
<rect x="977" y="330" width="3" height="5" fill="#fff"/>
<rect x="982" y="330" width="1" height="10" fill="#fff"/>
<rect x="981" y="331" width="3" height="6" fill="#fff"/>
<rect x="982" y="332" width="1" height="4" fill="#000"/>
<rect x="986" y="330" width="1" height="10" fill="#fff"/>
<rect x="985" y="331" width="3" height="3" fill="#fff"/>
<rect x="990" y="314" width="1" height="24" fill="#fff"/>
<rect x="989" y="314" width="3" height="19" fill="#fff"/>
<rect x="990" y="315" width="1" height="17" fill="#000"/>
<rect x="995" y="292" width="1" height="36" fill="#fff"/>
<rect x="994" y="314" width="3" height="4" fill="#fff"/>
<rect x="999" y="315" width="1" height="18" fill="#fff"/>
<rect x="998" y="317" width="3" height="12" fill="#fff"/>
<rect x="1003" y="318" width="1" height="11" fill="#fff"/>
<rect x="1002" y="323" width="3" height="4" fill="#fff"/>
<rect x="1003" y="324" width="1" height="2" fill="#000"/>
<rect x="1007" y="306" width="1" height="20" fill="#fff"/>
<rect x="1006" y="319" width="3" height="5" fill="#fff"/>
<rect x="1007" y="320" width="1" height="3" fill="#000"/>
<rect x="1011" y="307" width="1" height="15" fill="#fff"/>
<rect x="1010" y="309" width="3" height="11" fill="#fff"/>
<rect x="1011" y="310" width="1" height="9" fill="#000"/>
<rect x="1016" y="286" width="1" height="26" fill="#fff"/>
<rect x="1015" y="286" width="3" height="24" fill="#fff"/>
<rect x="1016" y="287" width="1" height="22" fill="#000"/>
<rect x="1020" y="263" width="1" height="24" fill="#fff"/>
<rect x="1019" y="272" width="3" height="8" fill="#fff"/>
<rect x="1020" y="273" width="1" height="6" fill="#000"/>
<rect x="1024" y="254" width="1" height="21" fill="#fff"/>
<rect x="1023" y="254" width="3" height="20" fill="#fff"/>
<rect x="1024" y="255" width="1" height="18" fill="#000"/>
<rect x="1028" y="241" width="1" height="22" fill="#fff"/>
<rect x="1027" y="241" width="3" height="13" fill="#fff"/>
<rect x="1028" y="242" width="1" height="11" fill="#000"/>
<rect x="1032" y="238" width="1" height="16" fill="#fff"/>
<rect x="1031" y="241" width="3" height="7" fill="#fff"/>
<rect x="1037" y="222" width="1" height="40" fill="#fff"/>
<rect x="1036" y="222" width="3" height="26" fill="#fff"/>
<rect x="1037" y="223" width="1" height="24" fill="#000"/>
<rect x="1041" y="207" width="1" height="32" fill="#fff"/>
<rect x="1040" y="216" width="3" height="9" fill="#fff"/>
<rect x="1041" y="217" width="1" height="7" fill="#000"/>
<rect x="1045" y="200" width="1" height="18" fill="#fff"/>
<rect x="1044" y="207" width="3" height="11" fill="#fff"/>
<rect x="1045" y="208" width="1" height="9" fill="#000"/>
<rect x="1049" y="203" width="1" height="27" fill="#fff"/>
<rect x="1048" y="208" width="3" height="12" fill="#fff"/>
<rect x="1054" y="192" width="1" height="33" fill="#fff"/>
<rect x="1053" y="195" width="3" height="25" fill="#fff"/>
<rect x="1054" y="196" width="1" height="23" fill="#000"/>
<rect x="1058" y="157" width="1" height="63" fill="#fff"/>
<rect x="1057" y="196" width="3" height="18" fill="#fff"/>
<rect x="1062" y="186" width="1" height="40" fill="#fff"/>
<rect x="1061" y="188" width="3" height="16" fill="#fff"/>
<rect x="1062" y="189" width="1" height="14" fill="#000"/>
<rect x="1066" y="178" width="1" height="23" fill="#fff"/>
<rect x="1065" y="188" width="3" height="1" fill="#fff"/>
<rect x="1070" y="180" width="1" height="27" fill="#fff"/>
<rect x="1069" y="188" width="3" height="15" fill="#fff"/>
<rect x="1075" y="182" width="1" height="21" fill="#fff"/>
<rect x="1074" y="191" width="3" height="12" fill="#fff"/>
<rect x="1075" y="192" width="1" height="10" fill="#000"/>
<rect x="1079" y="166" width="1" height="28" fill="#fff"/>
<rect x="1078" y="182" width="3" height="10" fill="#fff"/>
<rect x="1079" y="183" width="1" height="8" fill="#000"/>
<rect x="1083" y="185" width="1" height="41" fill="#fff"/>
<rect x="1082" y="186" width="3" height="39" fill="#fff"/>
</g>
</svg></body></html>
